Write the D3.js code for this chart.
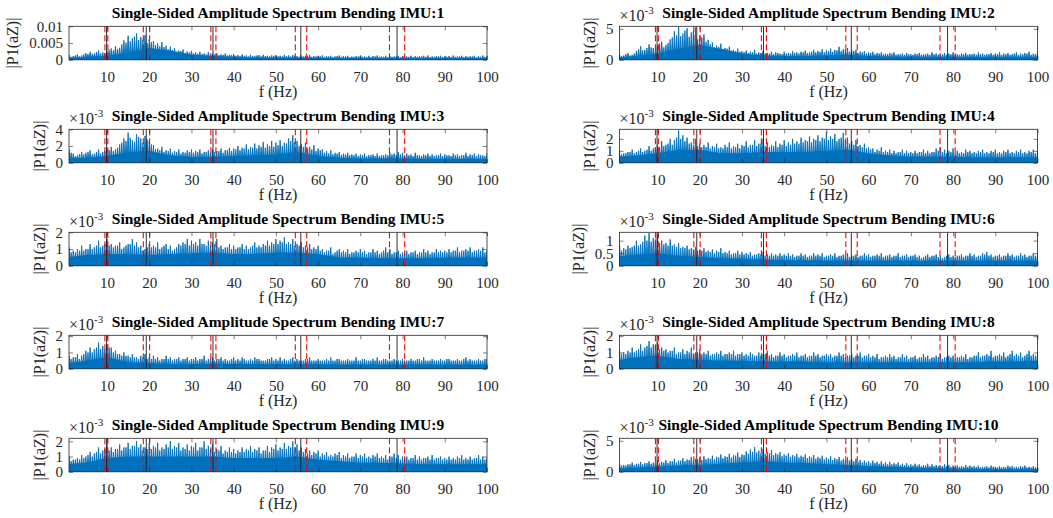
<!DOCTYPE html>
<html>
<head>
<meta charset="utf-8">
<script src="https://cdn.jsdelivr.net/npm/d3@7"></script>
<style>
  body { margin: 0; background: #fff; }
  svg text { font-family: "Liberation Serif", "Times New Roman", serif; fill: #262626; }
</style>
</head>
<body>
<svg id="chart" width="1053" height="518" font-family="Liberation Serif, serif"></svg>
<script>
// --- Data (amplitudes in units of 1e-3) ---
const imuNames = ["1", "2", "3", "4", "5", "6", "7", "8", "9", "10"];

// peaks at whole Hz (1..100)
const peak1 = [1.4,1.1,1.6,1.3,2.0,2.4,1.9,2.8,2.2,2.6, 3.4,4.1,3.6,5.8,7.2,6.4,7.9,6.8,7.4,6.1,
  5.6,4.9,5.3,4.2,3.9,3.4,2.8,3.1,2.5,2.7, 2.2,2.4,1.9,2.3,1.8,2.0,1.6,1.9,1.5,1.7,
  1.4,1.6,1.3,1.5,1.2,1.4,1.5,1.2,1.3,1.4, 1.2,1.5,1.3,1.4,1.1,1.3,1.2,1.4,1.1,1.2,
  1.3,1.1,1.2,1.0,1.3,1.1,1.2,1.0,1.1,1.3, 1.0,1.2,1.1,1.3,1.0,1.2,1.1,1.0,1.2,1.1,
  1.0,1.2,1.1,1.0,1.2,1.3,1.0,1.1,1.2,1.0, 1.1,1.3,1.0,1.2,1.1,1.0,1.2,1.1,1.3,1.0];
const peak2 = [0.9,0.7,1.1,0.8,1.4,2.2,1.6,2.5,1.9,2.3, 2.9,2.4,3.3,4.6,5.3,4.2,5.1,4.4,5.2,3.9,
  4.1,3.2,2.8,2.3,2.6,1.9,2.1,1.6,1.8,1.4, 1.5,1.3,1.6,1.2,1.4,1.1,1.3,1.2,1.0,1.3,
  1.1,1.4,1.2,1.3,1.5,1.2,1.6,1.4,1.7,1.5, 1.8,1.6,2.1,1.7,1.9,1.5,1.6,1.3,1.4,1.2,
  1.3,1.1,1.2,1.0,1.1,1.2,0.9,1.0,1.1,0.9, 1.0,1.1,0.9,1.0,1.2,1.0,0.9,1.1,1.0,1.2,
  0.9,1.0,1.1,0.9,1.0,1.2,1.0,0.9,1.1,1.0, 1.2,1.0,1.1,0.9,1.2,1.0,1.1,1.3,1.0,1.1];
const peak3 = [1.6,1.1,0.9,1.3,1.2,1.5,1.1,1.6,1.3,1.7, 1.9,1.6,2.2,2.9,3.6,2.7,3.4,2.9,3.2,2.6,
  2.1,1.7,1.9,1.5,1.7,1.4,1.6,1.3,1.5,1.6, 1.4,1.6,1.3,1.5,1.6,1.4,1.7,1.5,1.8,1.7,
  2.0,1.8,2.2,1.9,2.3,2.1,2.5,2.2,2.6,2.4, 2.7,2.4,2.9,3.3,2.6,2.2,2.4,1.9,2.1,1.7,
  1.6,1.4,1.5,1.2,1.3,1.1,1.2,1.0,1.1,1.0, 1.1,0.9,1.0,1.1,0.9,1.0,1.2,1.1,1.3,1.2,
  1.1,1.0,1.2,0.9,1.0,1.1,1.0,0.9,1.1,1.0, 0.9,1.1,1.0,0.9,1.2,1.0,1.1,1.0,0.9,1.1];
const peak4 = [1.0,0.8,0.9,1.1,0.9,1.2,1.0,1.4,1.2,1.5, 1.8,1.5,2.0,1.9,2.7,2.3,2.1,1.7,2.0,1.6,
  1.5,1.7,1.4,1.6,1.3,1.5,1.7,1.4,1.6,1.5, 1.8,1.5,1.9,1.6,2.0,1.7,1.5,1.8,1.6,1.9,
  1.7,2.0,1.8,2.1,1.9,2.2,2.0,2.3,2.1,2.6, 2.2,2.4,2.0,2.5,2.1,1.8,1.9,1.5,1.6,1.3,
  1.2,1.1,1.3,1.0,1.1,1.0,0.9,1.1,1.0,0.9, 1.0,0.9,1.1,1.0,0.9,1.2,1.3,1.1,1.0,1.2,
  1.0,0.9,1.1,1.0,0.9,1.0,1.1,0.9,1.0,1.1, 0.9,1.0,1.1,0.9,1.0,1.1,0.9,1.0,1.1,1.0];
const peak5 = [1.1,0.9,1.0,1.2,1.0,1.3,1.1,1.5,1.2,1.6, 1.3,1.2,1.4,1.1,1.3,1.6,1.4,1.2,1.0,1.3,
  1.2,1.4,1.1,1.3,1.2,1.0,1.3,1.4,1.6,1.5, 1.4,1.6,1.3,1.5,1.4,1.6,1.2,1.1,1.3,1.2,
  1.1,1.3,1.2,1.1,1.4,1.2,1.3,1.5,1.4,1.6, 1.5,1.7,1.4,1.6,1.3,1.4,1.2,1.3,1.1,1.2,
  1.0,0.9,1.1,0.8,1.0,0.9,1.0,0.8,0.9,1.0, 0.9,0.8,1.0,0.9,0.8,1.1,1.0,0.8,0.9,0.8,
  0.9,0.8,0.9,0.8,1.0,0.9,0.8,1.0,0.9,0.9, 1.0,0.9,1.1,0.9,1.0,1.1,0.9,1.0,1.1,0.9];
const peak6 = [0.9,0.7,0.8,0.75,1.0,0.85,1.2,1.3,1.1,1.25, 1.0,0.9,1.05,0.85,0.9,0.75,0.8,0.7,0.75,0.65,
  0.7,0.6,0.65,0.6,0.7,0.55,0.6,0.5,0.6,0.55, 0.5,0.55,0.45,0.5,0.55,0.45,0.5,0.45,0.5,0.45,
  0.5,0.45,0.4,0.5,0.45,0.4,0.5,0.45,0.5,0.4, 0.45,0.5,0.4,0.45,0.5,0.4,0.45,0.4,0.5,0.45,
  0.4,0.45,0.5,0.4,0.45,0.4,0.5,0.4,0.45,0.4, 0.45,0.4,0.35,0.45,0.4,0.45,0.4,0.35,0.45,0.4,
  0.4,0.45,0.4,0.5,0.45,0.4,0.5,0.55,0.45,0.4, 0.45,0.4,0.5,0.45,0.4,0.5,0.45,0.4,0.5,0.45];
const peak7 = [0.8,0.7,0.9,0.8,1.1,1.3,1.2,1.6,1.4,1.5, 1.3,1.1,0.9,1.0,0.8,0.9,0.7,0.8,0.9,0.7,
  0.8,0.7,0.6,0.8,0.7,0.6,0.7,0.6,0.7,0.6, 0.7,0.6,0.8,0.6,0.7,0.6,0.7,0.6,0.5,0.7,
  0.6,0.7,0.5,0.6,0.7,0.6,0.5,0.6,0.7,0.6, 0.7,0.6,0.5,0.7,0.6,0.5,0.6,0.7,0.5,0.6,
  0.5,0.6,0.7,0.5,0.6,0.5,0.6,0.5,0.7,0.5, 0.6,0.5,0.6,0.7,0.5,0.6,0.5,0.6,0.5,0.6,
  0.5,0.6,0.5,0.6,0.7,0.5,0.6,0.5,0.6,0.5, 0.6,0.5,0.6,0.5,0.7,0.6,0.5,0.6,0.5,0.6];
const peak8 = [1.2,1.0,1.1,1.3,1.1,1.5,1.3,1.7,1.5,1.6, 1.3,1.2,1.1,1.3,1.0,1.2,1.1,1.3,1.0,1.2,
  1.0,1.1,0.9,1.0,1.1,0.9,1.0,1.1,0.9,1.0, 0.9,1.0,0.8,1.0,0.9,1.1,0.9,0.8,1.0,0.9,
  0.8,0.9,1.0,0.8,0.9,0.8,1.0,0.9,0.8,0.9, 0.9,0.8,1.0,0.9,0.8,0.9,0.8,1.0,0.8,0.9,
  0.8,0.9,0.7,0.8,0.9,0.8,0.7,0.9,0.8,0.7, 0.8,0.7,0.9,0.8,0.7,0.8,0.9,0.7,0.8,0.8,
  0.7,0.8,0.9,0.7,0.8,1.0,0.8,0.9,1.1,0.8, 0.9,1.0,0.8,1.1,0.9,1.0,0.8,1.1,0.9,1.0];
const peak9 = [1.0,0.8,0.9,1.1,1.0,1.3,1.2,1.6,1.4,1.8, 1.6,1.5,1.8,1.6,1.9,1.7,2.0,1.8,1.6,1.9,
  1.7,1.9,1.6,1.8,2.0,1.7,1.9,1.6,1.8,1.7, 1.9,1.6,2.0,1.7,1.8,1.5,1.7,1.4,1.6,1.5,
  1.4,1.6,1.5,1.7,1.5,1.6,1.4,1.7,1.6,1.8, 1.6,1.9,1.7,2.0,1.8,1.6,1.5,1.4,1.3,1.4,
  1.2,1.3,1.1,1.2,1.3,1.1,1.2,1.0,1.2,1.1, 1.2,1.0,1.1,1.2,1.0,1.1,1.0,1.2,1.1,1.0,
  1.0,0.9,1.1,1.0,0.9,1.0,1.1,0.9,1.0,0.9, 1.0,0.9,1.0,1.1,0.9,1.0,0.9,1.1,1.0,0.9];
const peak10 = [1.4,1.1,1.2,1.5,1.3,1.6,1.4,1.7,1.5,1.8, 1.6,1.9,1.7,2.1,1.8,2.2,2.0,2.4,2.1,2.3,
  2.5,2.2,2.6,2.4,2.8,2.5,2.9,2.7,3.1,2.8, 3.3,3.6,4.0,3.4,3.7,3.2,3.5,3.0,3.2,2.8,
  3.0,2.7,2.9,2.6,2.8,2.5,2.7,2.4,2.6,2.3, 2.5,2.2,2.4,2.1,2.3,2.0,2.1,1.9,1.8,1.7,
  1.8,1.6,1.7,1.5,1.6,1.4,1.5,1.3,1.4,1.2, 1.3,1.2,1.1,1.3,1.2,1.1,1.0,1.2,1.1,1.0,
  1.0,0.9,1.1,1.0,0.9,1.0,0.8,0.9,1.0,0.8, 0.9,0.8,1.0,0.9,0.8,0.9,1.0,0.8,0.9,0.8];

// peaks at half Hz (1.5..100.5)
const half1 = [0.9,1.3,1.0,1.6,1.7,1.8,2.3,1.9,2.0,3.0, 2.8,3.2,4.6,5.1,5.5,6.9,5.9,6.1,5.0,5.3,
  4.3,4.0,3.8,3.1,2.9,2.4,2.6,2.0,2.2,1.9, 1.8,1.7,1.6,1.5,1.6,1.4,1.5,1.3,1.4,1.2,
  1.1,1.2,1.0,1.1,1.3,1.0,1.1,1.0,1.2,1.0, 1.0,1.1,1.0,1.2,0.9,1.0,1.1,0.9,1.0,1.0,
  0.9,1.0,0.8,1.1,0.9,1.0,0.8,0.9,1.0,0.9, 0.9,0.8,1.0,0.9,0.9,0.8,0.9,1.0,0.8,0.9,
  0.9,0.8,0.9,1.0,0.9,0.8,0.9,1.0,0.8,0.9, 0.8,0.9,1.0,0.8,0.9,1.0,0.8,0.9,0.9,0.8];
const half2 = [0.6,0.9,0.7,1.0,1.7,1.5,1.9,2.0,1.6,2.6, 2.0,2.7,3.6,3.9,3.8,4.7,3.7,4.6,3.3,3.6,
  2.9,2.5,2.0,2.1,1.7,1.8,1.5,1.4,1.3,1.2, 1.1,1.2,1.0,1.1,1.0,1.0,0.9,1.1,0.9,1.0,
  1.0,1.1,1.0,1.2,1.1,1.3,1.2,1.3,1.2,1.4, 1.3,1.5,1.4,1.6,1.3,1.4,1.1,1.2,1.0,1.1,
  0.9,1.0,0.9,0.9,1.0,0.8,0.9,0.8,0.9,0.8, 0.9,0.8,0.9,0.8,0.9,0.8,0.9,0.8,0.9,0.8,
  0.8,0.9,0.8,0.9,0.8,0.9,0.8,0.9,0.8,0.9, 0.8,0.9,0.8,1.0,0.8,0.9,1.0,0.8,0.9,0.8];
const half3 = [1.2,0.8,1.0,1.0,1.3,1.0,1.3,1.1,1.4,1.5, 1.4,1.8,2.4,2.6,3.0,2.5,3.1,2.4,2.8,2.2,
  1.6,1.5,1.3,1.4,1.2,1.3,1.1,1.2,1.3,1.2, 1.3,1.1,1.3,1.2,1.3,1.4,1.2,1.5,1.4,1.6,
  1.5,1.7,1.6,1.8,1.7,1.9,1.8,2.0,1.9,2.1, 2.0,2.3,2.6,2.5,2.0,1.9,1.7,1.6,1.4,1.5,
  1.2,1.1,1.0,1.1,0.9,1.0,0.9,0.9,0.8,0.9, 0.8,0.9,0.8,0.8,0.9,0.9,1.0,0.9,1.0,0.9,
  0.9,0.8,0.9,0.8,0.9,0.8,0.8,0.9,0.8,0.9, 0.8,0.9,0.8,0.9,0.8,0.9,0.8,0.9,0.8,0.9];
const half4 = [0.7,0.8,0.9,0.8,1.0,0.9,1.1,1.0,1.3,1.3, 1.4,1.6,1.5,2.1,2.0,1.8,1.6,1.5,1.4,1.3,
  1.3,1.2,1.3,1.2,1.2,1.3,1.2,1.3,1.2,1.4, 1.3,1.5,1.4,1.6,1.4,1.3,1.4,1.3,1.5,1.4,
  1.5,1.6,1.6,1.7,1.8,1.7,1.9,1.8,2.0,1.9, 2.0,1.8,2.1,1.9,1.6,1.5,1.4,1.3,1.2,1.1,
  0.9,1.0,0.9,0.9,0.8,0.8,0.9,0.8,0.8,0.8, 0.8,0.9,0.8,0.8,0.9,1.0,0.9,0.8,0.9,0.8,
  0.8,0.8,0.9,0.8,0.8,0.9,0.8,0.8,0.9,0.8, 0.8,0.9,0.8,0.8,0.9,0.8,0.8,0.9,0.8,0.8];
const half5 = [0.8,0.8,0.9,0.9,1.0,1.0,1.2,1.1,1.3,1.2, 1.1,1.2,1.0,1.2,1.3,1.2,1.1,0.9,1.1,1.1,
  1.1,1.0,1.2,1.0,0.9,1.1,1.2,1.3,1.2,1.3, 1.2,1.3,1.2,1.2,1.3,1.1,1.0,1.1,1.0,1.0,
  1.1,1.0,1.0,1.2,1.1,1.1,1.2,1.2,1.3,1.3, 1.4,1.3,1.3,1.2,1.2,1.1,1.1,1.0,1.0,0.9,
  0.8,0.9,0.7,0.9,0.8,0.8,0.7,0.8,0.8,0.8, 0.7,0.8,0.8,0.7,0.9,0.8,0.7,0.8,0.7,0.8,
  0.7,0.8,0.7,0.8,0.8,0.7,0.8,0.8,0.8,0.8, 0.8,0.9,0.8,0.9,0.9,0.8,0.9,0.9,0.8,0.8];
const half6 = [0.6,0.65,0.7,0.8,0.8,0.95,1.0,0.95,1.05,0.9, 0.85,0.8,0.8,0.75,0.7,0.7,0.65,0.65,0.6,0.6,
  0.55,0.55,0.5,0.55,0.5,0.5,0.45,0.5,0.45,0.45, 0.45,0.4,0.45,0.45,0.4,0.4,0.4,0.4,0.4,0.4,
  0.4,0.35,0.4,0.4,0.35,0.4,0.4,0.4,0.35,0.4, 0.4,0.35,0.4,0.4,0.35,0.4,0.35,0.4,0.4,0.35,
  0.4,0.4,0.35,0.4,0.35,0.4,0.35,0.4,0.35,0.4, 0.35,0.3,0.4,0.35,0.4,0.35,0.3,0.4,0.35,0.35,
  0.4,0.35,0.4,0.4,0.35,0.4,0.45,0.4,0.35,0.4, 0.35,0.4,0.4,0.35,0.4,0.4,0.35,0.4,0.4,0.35];
const half7 = [0.6,0.7,0.6,0.9,1.0,1.0,1.3,1.2,1.2,1.3, 1.0,0.9,0.8,0.8,0.7,0.7,0.6,0.7,0.6,0.6,
  0.6,0.5,0.6,0.6,0.5,0.6,0.5,0.6,0.5,0.6, 0.5,0.6,0.5,0.6,0.5,0.6,0.5,0.5,0.6,0.5,
  0.5,0.6,0.5,0.5,0.6,0.5,0.5,0.6,0.5,0.5, 0.5,0.5,0.6,0.5,0.5,0.5,0.6,0.5,0.5,0.5,
  0.5,0.5,0.5,0.6,0.5,0.5,0.5,0.5,0.5,0.6, 0.5,0.5,0.5,0.5,0.6,0.5,0.5,0.5,0.5,0.5,
  0.5,0.5,0.6,0.5,0.5,0.5,0.5,0.5,0.5,0.6, 0.5,0.5,0.5,0.6,0.5,0.5,0.5,0.5,0.6,0.5];
const half8 = [0.9,0.9,1.0,1.0,1.2,1.1,1.4,1.3,1.4,1.2, 1.1,1.0,1.1,0.9,1.0,0.9,1.0,0.9,1.0,0.9,
  0.9,0.8,0.9,0.9,0.8,0.9,0.9,0.8,0.9,0.8, 0.8,0.9,0.8,0.8,0.9,0.8,0.7,0.8,0.8,0.7,
  0.8,0.8,0.7,0.8,0.7,0.8,0.8,0.7,0.8,0.8, 0.7,0.8,0.8,0.7,0.8,0.7,0.8,0.7,0.8,0.7,
  0.7,0.6,0.7,0.7,0.7,0.6,0.7,0.7,0.6,0.7, 0.6,0.7,0.7,0.6,0.7,0.7,0.6,0.7,0.7,0.6,
  0.7,0.7,0.6,0.7,0.8,0.7,0.8,0.8,0.7,0.8, 0.8,0.7,0.9,0.8,0.8,0.7,0.9,0.8,0.8,0.8];
const half9 = [0.7,0.8,0.8,0.9,1.1,1.0,1.3,1.2,1.5,1.4, 1.3,1.5,1.4,1.6,1.5,1.7,1.6,1.4,1.5,1.5,
  1.6,1.4,1.5,1.6,1.5,1.6,1.4,1.5,1.4,1.6, 1.4,1.6,1.5,1.5,1.3,1.4,1.2,1.3,1.3,1.2,
  1.3,1.3,1.4,1.3,1.4,1.2,1.4,1.3,1.5,1.4, 1.5,1.5,1.6,1.6,1.4,1.3,1.2,1.1,1.2,1.0,
  1.1,1.0,1.0,1.1,0.9,1.0,0.9,1.0,0.9,1.0, 0.9,0.9,1.0,0.9,0.9,0.8,1.0,0.9,0.8,0.9,
  0.8,0.9,0.8,0.8,0.9,0.8,0.8,0.9,0.8,0.8, 0.8,0.8,0.9,0.8,0.8,0.8,0.9,0.8,0.8,0.8];
const half10 = [1.0,1.0,1.2,1.1,1.3,1.2,1.4,1.3,1.5,1.4, 1.5,1.4,1.7,1.5,1.8,1.7,1.9,1.8,2.0,1.9,
  2.0,2.1,2.0,2.3,2.2,2.4,2.3,2.6,2.4,2.7, 2.9,3.2,3.1,3.0,2.9,3.0,2.7,2.8,2.5,2.6,
  2.4,2.5,2.3,2.4,2.2,2.3,2.1,2.2,2.0,2.1, 1.9,2.0,1.8,1.9,1.8,1.7,1.6,1.5,1.5,1.4,
  1.4,1.3,1.3,1.2,1.2,1.2,1.1,1.1,1.0,1.0, 1.0,0.9,1.0,0.9,0.9,0.9,0.9,0.9,0.8,0.8,
  0.8,0.8,0.8,0.8,0.8,0.7,0.8,0.7,0.8,0.7, 0.7,0.7,0.8,0.7,0.7,0.8,0.7,0.7,0.7,0.7];

// dense "body" level of each spectrum, every 5 Hz
const bodyFreqs = [0,5,10,15,20,25,30,35,40,45,50,55,60,65,70,75,80,85,90,95,100];
const body1 = [0.6,0.8,1.2,2.0,3.5,2.8,1.6,1.1,0.9,0.7,0.6,0.6,0.55,0.5,0.5,0.5,0.5,0.5,0.5,0.5,0.5];
const body2 = [0.3,0.6,1.0,1.8,2.4,1.8,1.0,0.7,0.6,0.6,0.7,0.8,0.6,0.5,0.5,0.45,0.45,0.45,0.45,0.45,0.45];
const body3 = [0.6,0.6,0.8,1.3,1.4,0.9,0.7,0.7,0.8,0.9,1.0,1.3,0.8,0.6,0.5,0.5,0.5,0.45,0.45,0.45,0.45];
const body4 = [0.5,0.6,0.8,1.1,1.1,0.8,0.8,0.9,0.9,0.9,1.0,1.1,0.8,0.6,0.5,0.5,0.5,0.45,0.45,0.45,0.45];
const body5 = [0.5,0.65,0.7,0.7,0.65,0.7,0.75,0.8,0.7,0.7,0.8,0.8,0.7,0.5,0.5,0.45,0.45,0.45,0.5,0.5,0.5];
const body6 = [0.35,0.45,0.5,0.4,0.35,0.3,0.28,0.25,0.22,0.22,0.2,0.2,0.2,0.2,0.2,0.2,0.2,0.2,0.2,0.2,0.2];
const body7 = [0.3,0.5,0.7,0.4,0.35,0.3,0.3,0.3,0.3,0.28,0.28,0.28,0.28,0.25,0.25,0.25,0.25,0.25,0.25,0.25,0.25];
const body8 = [0.5,0.7,0.8,0.6,0.55,0.5,0.5,0.45,0.45,0.45,0.4,0.4,0.4,0.4,0.4,0.4,0.4,0.4,0.45,0.45,0.5];
const body9 = [0.5,0.6,0.9,1.0,1.0,1.0,1.0,1.0,0.9,0.9,0.9,1.0,0.8,0.7,0.6,0.6,0.55,0.5,0.5,0.5,0.5];
const body10 = [0.5,0.7,0.8,1.0,1.1,1.3,1.5,1.7,1.5,1.4,1.2,1.1,0.9,0.8,0.7,0.6,0.5,0.5,0.4,0.4,0.4];

const peaks = [peak1, peak2, peak3, peak4, peak5, peak6, peak7, peak8, peak9, peak10];
const halves = [half1, half2, half3, half4, half5, half6, half7, half8, half9, half10];
const bodies = [body1, body2, body3, body4, body5, body6, body7, body8, body9, body10];

// y axis limits and ticks (units 1e-3)
const yMax = [10, 5.4, 4, 2.8, 2, 1.33, 2.05, 2.05, 2.2, 5.4];
const yTicks = [[0, 5, 10], [0, 5], [0, 2, 4], [0, 1, 2], [0, 1, 2], [0, 0.5, 1], [0, 1, 2], [0, 1, 2], [0, 1, 2], [0, 5]];
const xTicks = [10, 20, 30, 40, 50, 60, 70, 80, 90, 100];

// marker frequencies
const redLines = [9.5, 10.2, 18.6, 20.1, 34.6, 35.8, 54.6, 57.3, 76.9, 80.5];
const blackLines = [9.9, 19.3, 35.1, 55.9, 78.7];

// --- Layout ---
const svg = d3.select("#chart");
const colLeft = [69, 619.5];
const plotW = 418;
const rowTop0 = 26.3, rowStep = 103, plotH = 33.5;
const blue = "#0072BD";
const axisColor = "#262626";

peaks.forEach((peak, k) => {
    const col = k % 2, row = Math.floor(k / 2);
    const left = colLeft[col], top = rowTop0 + row * rowStep;

    const g = svg.append("g").attr("transform", `translate(${left},${top})`);

    const x = d3.scaleLinear().domain([1, 100]).range([0, plotW]);
    const y = d3.scaleLinear().domain([0, yMax[k]]).range([plotH, 0]);

    const clipId = "clip" + k;
    g.append("clipPath").attr("id", clipId)
        .append("rect").attr("width", plotW).attr("height", plotH);

    const plot = g.append("g").attr("clip-path", `url(#${clipId})`);

    // dense part of the spectrum
    const bodyData = bodyFreqs.map((f, i) => ({ f, v: bodies[k][i] }));
    plot.append("path")
        .datum(bodyData)
        .attr("fill", blue)
        .attr("d", d3.area().x(d => x(d.f)).y0(y(0)).y1(d => y(d.v)));

    // spikes: whole-Hz and half-Hz peaks, each falling back to the floor
    const spikePts = [[1, 0]];
    peak.forEach((v, i) => {
        spikePts.push([i + 1, v]);
        spikePts.push([i + 1.25, 0]);
        spikePts.push([i + 1.5, halves[k][i]]);
        spikePts.push([i + 1.75, 0]);
    });
    plot.append("path")
        .datum(spikePts)
        .attr("fill", blue)
        .attr("stroke", blue)
        .attr("stroke-width", 0.9)
        .attr("d", d3.line().x(d => x(d[0])).y(d => y(d[1])));

    // marker lines
    plot.selectAll(".red").data(redLines).join("line")
        .attr("x1", d => x(d)).attr("x2", d => x(d))
        .attr("y1", 0).attr("y2", plotH)
        .attr("stroke", "#ff0000").attr("stroke-width", 1.1)
        .attr("stroke-dasharray", "6,3");
    plot.selectAll(".blk").data(blackLines).join("line")
        .attr("x1", d => x(d)).attr("x2", d => x(d))
        .attr("y1", 0).attr("y2", plotH)
        .attr("stroke", "#1a1a1a").attr("stroke-width", 0.9);

    // axes
    const fmtY = k === 0 ? (d => d3.format("")(d / 1000)) : (d => d3.format("")(d));
    g.append("g").attr("transform", `translate(0,${plotH})`)
        .call(d3.axisBottom(x).tickValues(xTicks).tickSizeInner(-4).tickSizeOuter(0).tickPadding(12));
    const yl = g.append("g")
        .call(d3.axisLeft(y).tickValues(yTicks[k]).tickFormat(fmtY).tickSizeInner(-4).tickSizeOuter(0).tickPadding(6));
    g.append("g").call(d3.axisTop(x).tickValues(xTicks).tickSizeInner(-4).tickSizeOuter(0).tickFormat(""));
    g.append("g").attr("transform", `translate(${plotW},0)`)
        .call(d3.axisRight(y).tickValues(yTicks[k]).tickSizeInner(-4).tickSizeOuter(0).tickFormat(""));

    g.selectAll(".domain").remove();
    g.selectAll(".tick line").attr("stroke", axisColor).attr("stroke-width", 0.6);
    g.selectAll(".tick text").attr("fill", axisColor)
        .attr("font-family", "Liberation Serif, serif").style("font-size", "15px");

    g.append("rect").attr("width", plotW).attr("height", plotH)
        .attr("fill", "none").attr("stroke", axisColor).attr("stroke-width", 0.8);

    // x label
    g.append("text")
        .attr("x", plotW / 2).attr("y", plotH + 37)
        .attr("text-anchor", "middle")
        .style("font-size", "16px")
        .text("f (Hz)");

    // y label, placed left of the widest tick label
    let maxW = 0;
    yl.selectAll(".tick text").each(function() { maxW = Math.max(maxW, this.getComputedTextLength()); });
    g.append("text")
        .attr("transform", `translate(${-6 - maxW - 11},${plotH / 2}) rotate(-90)`)
        .attr("text-anchor", "middle")
        .style("font-size", "16px")
        .text("|P1(aZ)|");

    // exponent label
    if (k > 0) {
        const ex = g.append("text").attr("x", 0).attr("y", -5).style("font-size", "16px");
        ex.append("tspan").text("×10");
        ex.append("tspan").attr("dy", -7).style("font-size", "11px").text("-3");
    }

    // title
    g.append("text")
        .attr("x", plotW / 2).attr("y", -8)
        .attr("text-anchor", "middle")
        .style("font-size", "15.5px").style("font-weight", "bold")
        .style("fill", "#000")
        .text(`Single-Sided Amplitude Spectrum Bending IMU:${imuNames[k]}`);
});
</script>
</body>
</html>
